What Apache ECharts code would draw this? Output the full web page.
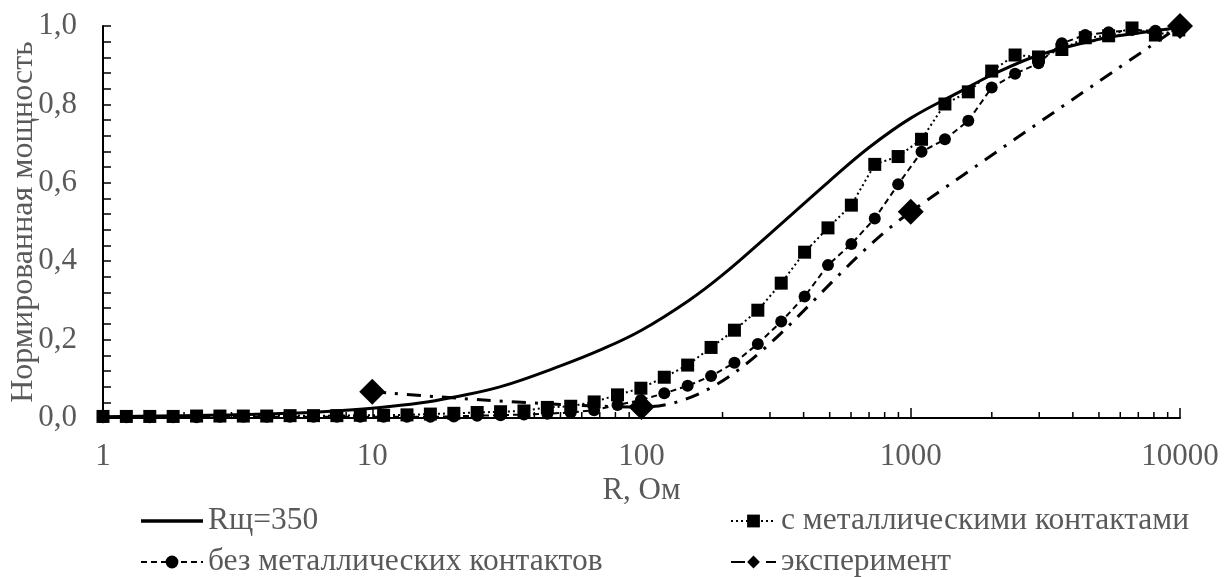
<!DOCTYPE html>
<html>
<head>
<meta charset="utf-8">
<style>
  html, body { margin: 0; padding: 0; background: #fff; }
  #chart { width: 1224px; height: 577px; }
</style>
<script src="https://cdn.jsdelivr.net/npm/echarts@6/dist/echarts.min.js"></script>
</head>
<body>
<div id="chart"></div>
<script>
// Теоретическая кривая (Rщ = 350 Ом)
const rTheory = [1, 2, 3, 5, 7, 10, 15, 20, 30, 50, 70, 100, 150, 200, 300, 500, 700, 1000, 1500, 2000, 3000, 5000, 7000, 10000];
const pTheory = [0.003, 0.006, 0.008, 0.012, 0.017, 0.025, 0.038, 0.053, 0.08, 0.133, 0.173, 0.224, 0.30, 0.365, 0.47, 0.605, 0.69, 0.765, 0.83, 0.875, 0.926, 0.966, 0.982, 0.997];

// Сетка сопротивлений для расчётных серий
const rCalc = [1, 1.221, 1.492, 1.822, 2.226, 2.718, 3.320, 4.055, 4.953, 6.050, 7.389, 9.025, 11.02, 13.46, 16.44, 20.09, 24.53, 29.96, 36.60, 44.70, 54.60, 66.69, 81.45, 99.48, 121.5, 148.4, 181.3, 221.4, 270.4, 330.3, 403.4, 492.7, 601.8, 735.1, 897.8, 1096.6, 1339.4, 1636.0, 1998.2, 2440.6, 2981.0, 3641.0, 4447.1, 5431.7, 6634.2, 8103.1, 9897.1];

// с металлическими контактами
const pWithContacts = [0.004, 0.004, 0.004, 0.004, 0.005, 0.005, 0.005, 0.005, 0.006, 0.006, 0.006, 0.007, 0.007,
  0.008, 0.010, 0.012, 0.014, 0.016, 0.018, 0.027, 0.030, 0.041, 0.059, 0.076, 0.104, 0.135, 0.180, 0.224, 0.275,
  0.344, 0.423, 0.485, 0.543, 0.647, 0.667, 0.711, 0.801, 0.832, 0.885, 0.926, 0.921, 0.940, 0.970, 0.975, 0.995, 0.977, 0.990];

// без металлических контактов
const pNoContacts = [0.002, 0.002, 0.002, 0.002, 0.002, 0.003, 0.003, 0.003, 0.003, 0.003, 0.003, 0.003, 0.003,
  0.003, 0.003, 0.004, 0.006, 0.007, 0.009, 0.011, 0.014, 0.020, 0.033, 0.046, 0.063, 0.082, 0.107, 0.141, 0.189,
  0.246, 0.310, 0.390, 0.444, 0.509, 0.596, 0.679, 0.711, 0.758, 0.843, 0.878, 0.905, 0.956, 0.977, 0.984, 0.990, 0.988, 0.995];

// эксперимент
const rExp = [10, 100, 1000, 10000];
const pExp = [0.067, 0.028, 0.526, 1.0];

const names = ['Rщ=350', 'с металлическими контактами', 'без металлических контактов', 'эксперимент'];

const FONT = '"Liberation Serif", "Times New Roman", serif';
const GRAY = '#595959';

// промежуточные деления логарифмической оси X (2..9 в каждой декаде)
const xMinorTicks = [];
for (let d = 1; d < 10000; d *= 10) {
  for (let m = 2; m <= 9; m++) xMinorTicks.push([m * d, 0]);
}

const pairs = (xs, ys) => xs.map((x, i) => [x, ys[i]]);

const legendText = { color: GRAY, fontSize: 31.5, fontFamily: FONT, lineHeight: 31 };

const chart = echarts.init(document.getElementById('chart'), null, { renderer: 'canvas' });
chart.setOption({
  animation: false,
  backgroundColor: '#fff',
  textStyle: { fontFamily: FONT },
  grid: { left: 103, right: 44, top: 26, bottom: 159, containLabel: false, outerBoundsMode: 'none' },
  xAxis: {
    type: 'log',
    logBase: 10,
    min: 1,
    max: 10000,
    name: 'R, Ом',
    nameLocation: 'middle',
    nameGap: 57,
    nameMoveOverlap: false,
    nameTextStyle: { color: GRAY, fontSize: 31, fontFamily: FONT },
    axisLine: { show: true, lineStyle: { color: '#000', width: 2 } },
    axisTick: { show: true, inside: true, length: 10, lineStyle: { color: '#000', width: 1.5 } },
    axisLabel: { color: GRAY, fontSize: 31, fontFamily: FONT, margin: 23, formatter: v => String(v) },
    splitLine: { show: false }
  },
  yAxis: {
    type: 'value',
    min: 0,
    max: 1,
    interval: 0.2,
    name: 'Нормированная мощность',
    nameLocation: 'middle',
    nameGap: 63,
    nameMoveOverlap: false,
    nameTextStyle: { color: GRAY, fontSize: 32, fontFamily: FONT },
    axisLine: { show: true, lineStyle: { color: '#000', width: 2 } },
    axisTick: { show: true, inside: true, length: 8, lineStyle: { color: '#000', width: 1.5 } },
    minorTick: { show: true, splitNumber: 5, length: 8, lineStyle: { color: '#000', width: 1.5 } },
    axisLabel: {
      color: GRAY, fontSize: 31, fontFamily: FONT, margin: 26,
      formatter: v => v.toFixed(1).replace('.', ',')
    },
    splitLine: { show: false }
  },
  legend: [
    {
      data: [
        { name: names[0], icon: 'path://M0,0 L62,0 L62,3.5 L0,3.5 Z' },
        names[2]
      ],
      orient: 'vertical',
      left: 135,
      top: 500,
      width: 500,
      height: 120,
      itemWidth: 62,
      itemHeight: 16,
      itemGap: 9,
      textStyle: legendText
    },
    {
      data: [names[1], names[3]],
      orient: 'vertical',
      left: 725,
      top: 500,
      width: 490,
      height: 120,
      itemWidth: 45,
      itemHeight: 16,
      itemGap: 9,
      textStyle: legendText
    }
  ],
  series: [
    {
      name: names[0],
      type: 'line',
      data: pairs(rTheory, pTheory),
      smooth: 0.4,
      showSymbol: false,
      symbol: 'none',
      clip: false,
      lineStyle: { color: '#000', width: 3 },
      itemStyle: { color: '#000' },
      z: 3
    },
    {
      name: names[1],
      type: 'line',
      data: pairs(rCalc, pWithContacts),
      symbol: 'rect',
      symbolSize: 13,
      clip: false,
      lineStyle: { color: '#000', width: 2, type: [2, 3] },
      itemStyle: { color: '#000' },
      z: 4
    },
    {
      name: names[2],
      type: 'line',
      data: pairs(rCalc, pNoContacts),
      symbol: 'circle',
      symbolSize: 12,
      clip: false,
      lineStyle: { color: '#000', width: 2, type: [6, 4] },
      itemStyle: { color: '#000' },
      z: 4
    },
    {
      name: names[3],
      type: 'line',
      data: pairs(rExp, pExp),
      smooth: 0.35,
      symbol: 'diamond',
      symbolSize: 26,
      clip: false,
      lineStyle: { color: '#000', width: 3, type: [14, 9, 3, 9] },
      itemStyle: { color: '#000' },
      z: 5
    },
    {
      type: 'custom',
      silent: true,
      data: xMinorTicks,
      renderItem: (params, api) => {
        const p = api.coord([api.value(0), 0]);
        return {
          type: 'line',
          shape: { x1: p[0], y1: p[1], x2: p[0], y2: p[1] - 6 },
          style: { stroke: '#000', lineWidth: 1.5 }
        };
      },
      z: 2
    }
  ]
});
</script>
</body>
</html>
